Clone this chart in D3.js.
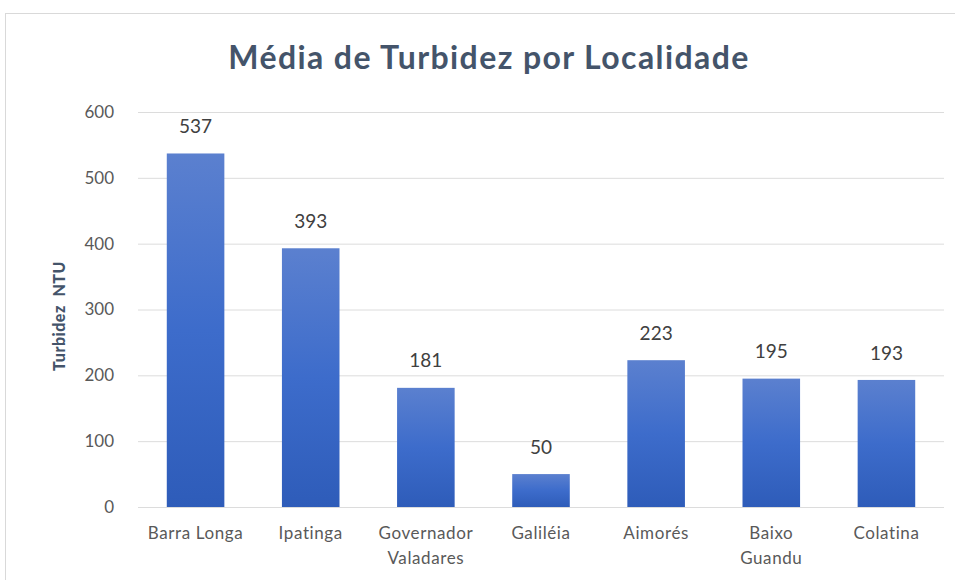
<!DOCTYPE html>
<html><head><meta charset="utf-8">
<script src="https://cdn.jsdelivr.net/npm/d3@7"></script>
<style>body{margin:0;background:#fff;} svg{display:block;font-family:Lato, "Open Sans", sans-serif;}</style>
</head><body>
<svg id="c" width="955" height="580"></svg>
<script>
const categories = [["Barra Longa"],["Ipatinga"],["Governador","Valadares"],["Galiléia"],["Aimorés"],["Baixo","Guandu"],["Colatina"]];
const values = [537, 393, 181, 50, 223, 195, 193];
const yTicks = [0, 100, 200, 300, 400, 500, 600];
const title = "Média de Turbidez por Localidade";
const yTitle = "Turbidez  NTU";

const svg = d3.select("#c");
const defs = svg.append("defs");
const g = defs.append("linearGradient").attr("id","bg").attr("x1",0).attr("y1",0).attr("x2",0).attr("y2",1);
g.append("stop").attr("offset","0%").attr("stop-color","#5b80cf");
g.append("stop").attr("offset","50%").attr("stop-color","#3d6ccb");
g.append("stop").attr("offset","100%").attr("stop-color","#2e5cb9");

svg.append("rect").attr("x",5.5).attr("y",13.5).attr("width",1000).attr("height",1000)
  .attr("fill","#fff").attr("stroke","#d9d9d9");

const pLeft = 138, pRight = 944, pTop = 112, pBottom = 507;
const x = d3.scaleBand().domain(d3.range(categories.length)).range([pLeft,pRight]).paddingInner(0.5).paddingOuter(0.25);
const y = d3.scaleLinear().domain([0,600]).range([pBottom,pTop]);

svg.append("g").selectAll("line").data(yTicks).join("line")
  .attr("x1",pLeft).attr("x2",pRight).attr("y1",d=>y(d)+0.5).attr("y2",d=>y(d)+0.5)
  .attr("stroke","#dcdcdc").attr("stroke-width",1);

svg.append("g").selectAll("text").data(yTicks).join("text")
  .attr("x",114).attr("y",d=>y(d)).attr("dy","0.35em").attr("text-anchor","end")
  .attr("font-size",17).attr("fill","#595959").text(d=>d);

svg.append("g").selectAll("rect").data(values).join("rect")
  .attr("x",(d,i)=>x(i)).attr("width",x.bandwidth())
  .attr("y",d=>y(d)).attr("height",d=>pBottom-y(d)).attr("fill","url(#bg)");

svg.append("g").selectAll("text").data(values).join("text")
  .attr("x",(d,i)=>x(i)+x.bandwidth()/2).attr("y",d=>y(d)-27).attr("dy","0.35em")
  .attr("text-anchor","middle").attr("font-size",19).attr("fill","#404040").text(d=>d);

const cl = svg.append("g").selectAll("text").data(categories).join("text")
  .attr("x",(d,i)=>x(i)+x.bandwidth()/2).attr("y",533)
  .attr("text-anchor","middle").attr("font-size",17).attr("letter-spacing","0.6px").attr("fill","#595959");
cl.selectAll("tspan").data(d=>d).join("tspan")
  .attr("x",function(){return this.parentNode.getAttribute("x");})
  .attr("dy",(d,i)=>i===0?"0.35em":"1.45em").text(d=>d);

svg.append("text").attr("x",489).attr("y",58).attr("dy","0.35em").attr("text-anchor","middle")
  .attr("font-size",32).attr("letter-spacing","1.4px").attr("font-weight","bold").attr("fill","#44546a").text(title);

svg.append("text").attr("transform","translate(59,316) rotate(-90)").attr("dy","0.35em")
  .attr("text-anchor","middle").attr("font-size",16).attr("font-weight","900").attr("letter-spacing","0.5px")
  .attr("fill","#44546a").attr("xml:space","preserve").style("white-space","pre").text(yTitle);
</script>
</body></html>
